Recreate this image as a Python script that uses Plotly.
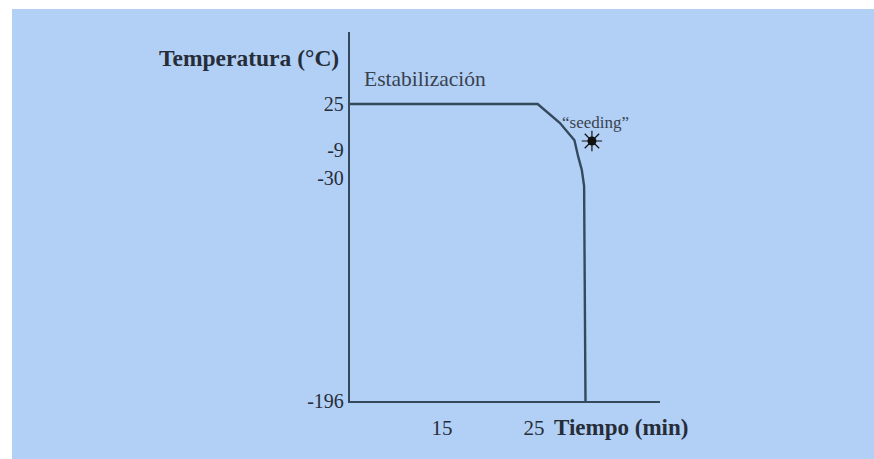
import plotly.graph_objects as go

# Cryopreservation cooling profile (schematic)
tiempo_min = [5, 25.4, 27.8, 29.4, 29.8, 30.2, 30.45, 30.6]
temperatura_c = [25, 25, 11, -2, -14, -24, -36, -196]

# Seeding point
seeding_t = [31.3]
seeding_temp = [-2.5]

x_ticks = [15, 25]
x_tick_labels = ["15", "25"]
y_ticks = [25, -9, -30, -196]
y_tick_labels = ["25", "-9", "-30", "-196"]

BG = "#b2d0f6"
LINE = "#34495c"
TXT = "#262d38"
FONT = "Liberation Serif"

fig = go.Figure()

fig.add_trace(go.Scatter(
    x=tiempo_min, y=temperatura_c, mode="lines",
    line=dict(color=LINE, width=2.4),
    hoverinfo="skip", showlegend=False,
))

fig.add_trace(go.Scatter(
    x=seeding_t, y=seeding_temp, mode="markers",
    marker=dict(symbol="asterisk-open", size=17, color="#111111",
                line=dict(color="#111111", width=1.2)),
    hoverinfo="skip", showlegend=False,
))
fig.add_trace(go.Scatter(
    x=seeding_t, y=seeding_temp, mode="markers",
    marker=dict(symbol="circle", size=9, color="#111111"),
    hoverinfo="skip", showlegend=False,
))

fig.update_xaxes(
    range=[5, 38.7], showline=True, linecolor=LINE, linewidth=2.4,
    showgrid=False, zeroline=False, ticks="",
    tickvals=x_ticks, ticktext=x_tick_labels,
    tickfont=dict(family=FONT, size=21, color=TXT),
    ticklabelstandoff=7,
)
fig.update_yaxes(
    range=[-196, 78.6], showline=True, linecolor=LINE, linewidth=2.4,
    showgrid=False, zeroline=False, ticks="",
    tickvals=y_ticks, ticktext=y_tick_labels,
    tickfont=dict(family=FONT, size=20, color=TXT),
    ticklabelstandoff=0,
)

annotations = [
    dict(text="Estabilización", x=6.3, y=43.6, xref="x", yref="y",
         xanchor="left", yanchor="middle", showarrow=False,
         font=dict(family=FONT, size=21.5, color="#39424f")),
    dict(text="\u201cseeding\u201d", x=31.7, y=11.6, xref="x", yref="y",
         xanchor="center", yanchor="middle", showarrow=False,
         font=dict(family=FONT, size=17, color="#39424f")),
    dict(text="<b>Temperatura (°C)</b>", x=-0.029, y=59.2, xref="paper", yref="y",
         xanchor="right", yanchor="middle", showarrow=False,
         font=dict(family=FONT, size=23.5, color=TXT)),
    dict(text="<b>Tiempo (min)</b>", x=27.0, y=-0.0705, xref="x", yref="paper",
         xanchor="left", yanchor="middle", showarrow=False,
         font=dict(family=FONT, size=23, color=TXT)),
]

# white page border on the top and left edges
shapes = [
    dict(type="rect", xref="paper", yref="paper", x0=-1.2, x1=1.8,
         y0=1.0623, y1=1.2, fillcolor="white", line=dict(width=0), layer="below"),
    dict(type="rect", xref="paper", yref="paper", x0=-1.2, x1=-1.0903,
         y0=-0.3, y1=1.2, fillcolor="white", line=dict(width=0), layer="below"),
]

fig.update_layout(
    width=874, height=459,
    margin=dict(l=350, r=214, t=32, b=58),
    paper_bgcolor=BG, plot_bgcolor="rgba(0,0,0,0)",
    annotations=annotations, shapes=shapes,
    showlegend=False,
)

fig.write_html("out.html")
